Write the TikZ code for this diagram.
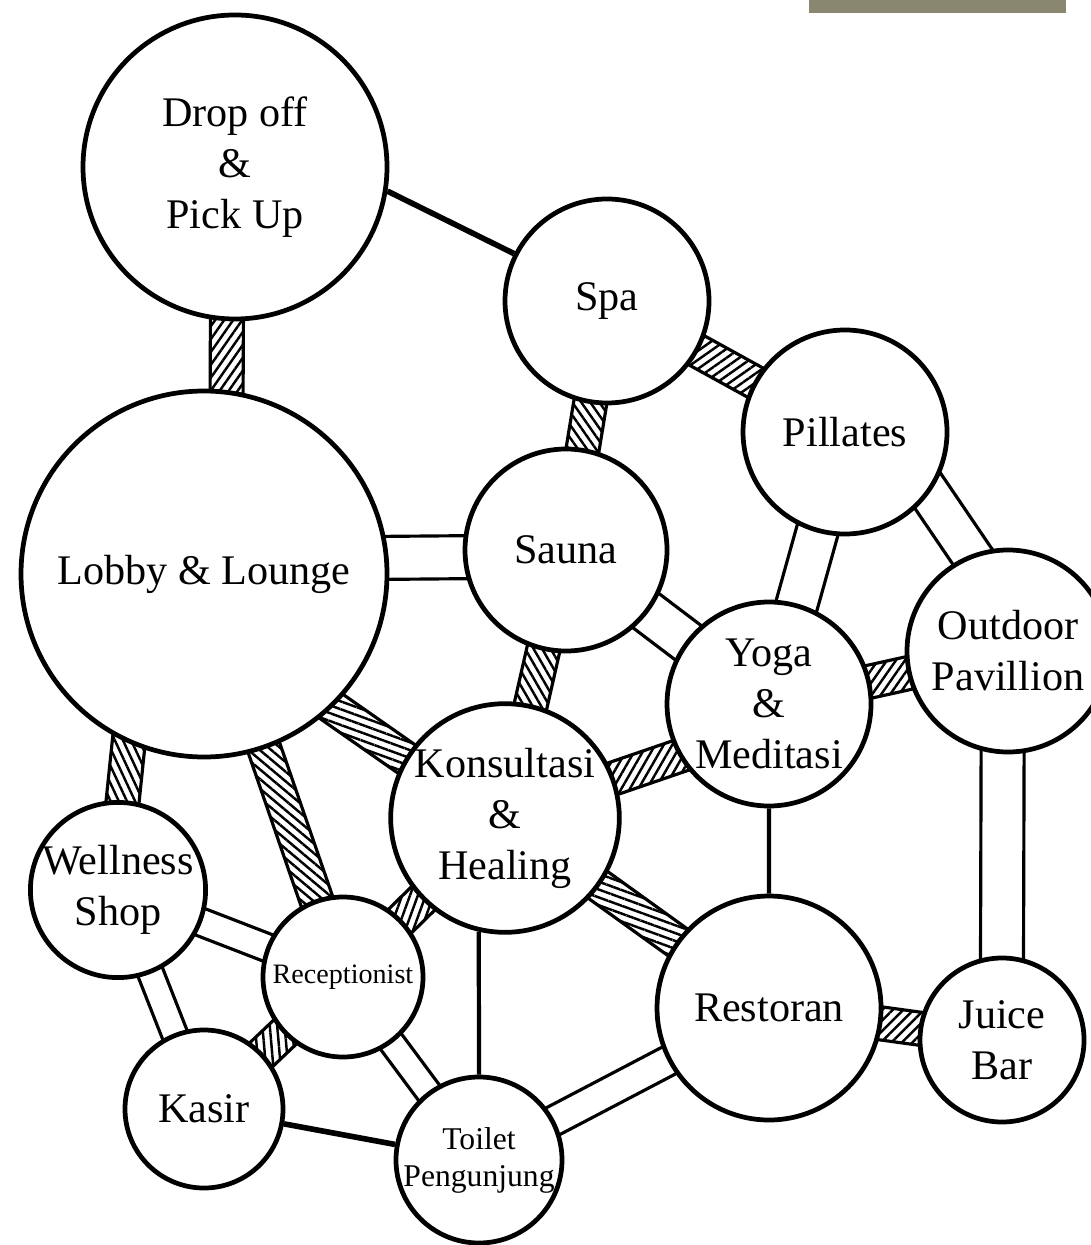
\documentclass[tikz,border=0pt]{standalone}
\usepackage{fontspec}
\setmainfont{Liberation Serif}
\usetikzlibrary{positioning,calc,backgrounds,patterns.meta}
\definecolor{barcol}{RGB}{138,135,112}
\tikzset{room node/.style={circle,draw,line width=1.35pt,fill=white,inner sep=0pt,
align=center,font=\fontsize{12}{14.5}\selectfont},
band edge/.style={line width=.9pt},
thick link/.style={line width=1.6pt},
thin link/.style={line width=1.2pt}}
\newcommand{\hatchw}{0.165cm}
\newcommand{\hatchlink}[3]{%
  \coordinate (p) at ($(#2)!-4pt!(#3)$);
  \coordinate (q) at ($(#3)!-4pt!(#2)$);
  \draw[band edge,pattern={Lines[angle=#1,distance=2.1pt,line width=.7pt]}]
    ($(p)!\hatchw!90:(q)$) -- ($(q)!\hatchw!-90:(p)$)
    -- ($(q)!\hatchw!90:(p)$) -- ($(p)!\hatchw!-90:(q)$) -- cycle;}
\newcommand{\doublelink}[3]{%
  \coordinate (p) at ($(#2)!-4pt!(#3)$);
  \coordinate (q) at ($(#3)!-4pt!(#2)$);
  \draw[band edge] ($(p)!#1!90:(q)$) -- ($(q)!#1!-90:(p)$)
    ($(p)!#1!-90:(q)$) -- ($(q)!#1!90:(p)$);}

\begin{document}
\begin{tikzpicture}[on grid]
\useasboundingbox (0,0) rectangle (10.9,-12.45);
\fill[barcol] (8.09,0) rectangle (10.66,-0.13);

\node[room node,minimum size=3.04cm] (0) at (2.35,-1.67) {Drop off\\\&\\Pick Up};
\node[room node,minimum size=2.04cm] (1) [below right=1.34cm and 3.72cm of 0] {Spa};
\node[room node,minimum size=2.04cm] (2) [below right=1.31cm and 2.38cm of 1] {Pillates};
\node[room node,minimum size=3.66cm] (3) [below left=4.07cm and 0.31cm of 0] {Lobby \& Lounge};
\node[room node,minimum size=2.02cm] (4) [below left=2.49cm and 0.41cm of 1] {Sauna};
\node[room node,minimum size=2.02cm] (5) [below right=2.19cm and 1.63cm of 2] {Outdoor\\Pavillion};
\node[room node,minimum size=2.04cm] (6) [below left=2.72cm and 0.76cm of 2] {Yoga\\\&\\Meditasi};
\node[room node,minimum size=2.2cm] (7) [below left=2.68cm and 0.61cm of 4] {Konsultasi\\\&\\Healing};
\node[room node,minimum size=1.74cm] (8) [below left=3.16cm and 0.86cm of 3] {Wellness\\Shop};
\node[room node,minimum size=1.6cm,font=\fontsize{8}{9.6}\selectfont] (9)
  [below right=0.87cm and 2.25cm of 8] {Receptionist};
\node[room node,minimum size=2.24cm] (10) [below=3.04cm of 6] {Restoran};
\node[room node,minimum size=1.64cm] (11) [below right=0.32cm and 2.33cm of 10] {Juice\\Bar};
\node[room node,minimum size=1.58cm] (12) [below right=2.19cm and 0.86cm of 8] {Kasir};
\node[room node,minimum size=1.66cm,font=\fontsize{9}{10.5}\selectfont] (13)
  [below right=0.51cm and 2.75cm of 12] {Toilet\\Pengunjung};

\begin{scope}[on background layer]
% plain lines
\path[draw,thick link] (0.351)--(1.153) (12)--(13);
\path[draw,thin link] (6)--(10) (13.north)--(7.257);
% hatched bands
\hatchlink{55}{0.267}{3.83}
\hatchlink{35}{1}{2}
\hatchlink{-55}{1}{4}
\hatchlink{-65}{3.246}{8.87}
\hatchlink{-20}{3.314}{7.149}
\hatchlink{-40}{3}{9}
\hatchlink{-60}{4}{7}
\hatchlink{60}{7.20}{6.210}
\hatchlink{55}{6}{5}
\hatchlink{70}{7}{9}
\hatchlink{-20}{7}{10}
\hatchlink{95}{9}{12}
\hatchlink{45}{10}{11}
% open bands
\doublelink{0.215cm}{3.5}{4.184}
\doublelink{0.215cm}{4}{6}
\doublelink{0.21cm}{2}{6}
\doublelink{0.205cm}{2.324}{5.111}
\doublelink{0.215cm}{5.267}{11.90}
\doublelink{0.14cm}{8}{9}
\doublelink{0.13cm}{8}{12}
\doublelink{0.13cm}{9}{13}
\doublelink{0.15cm}{13}{10}
\end{scope}
\end{tikzpicture}
\end{document}
